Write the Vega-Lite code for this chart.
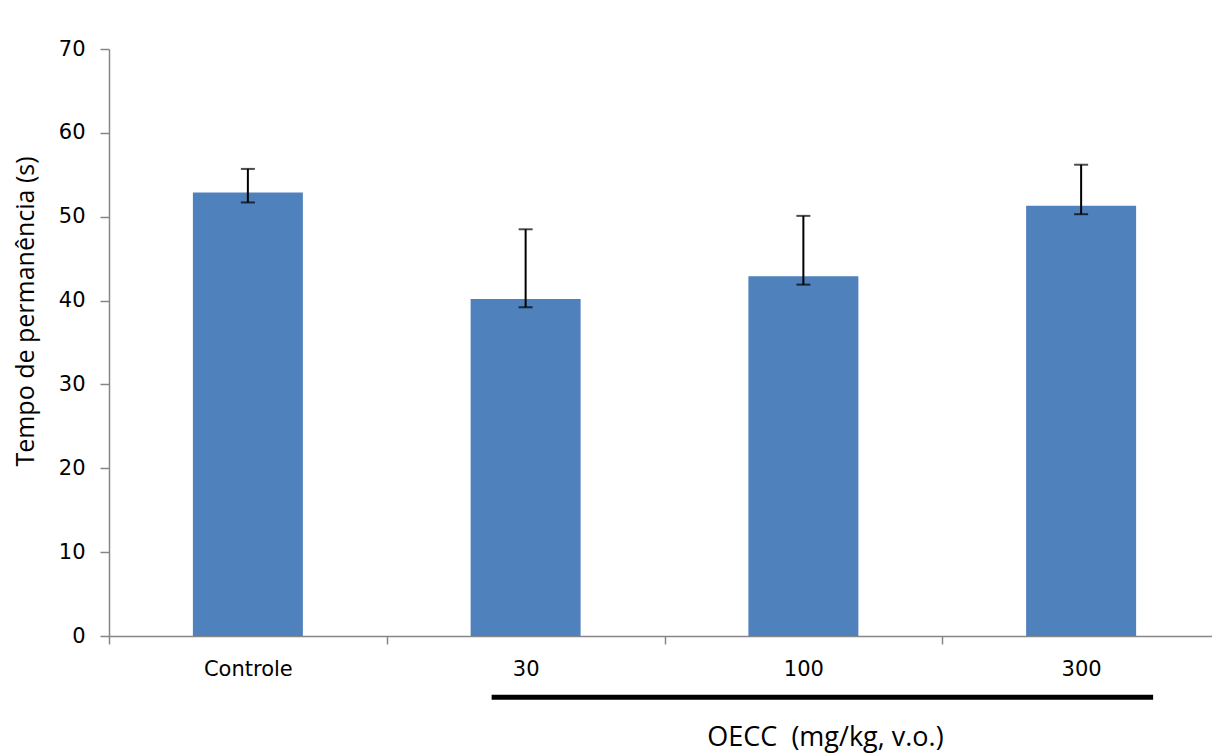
{
  "$schema": "https://vega.github.io/schema/vega-lite/v6.json",
  "autosize": "none",
  "width": 1111,
  "height": 587,
  "padding": {"left": 109, "top": 49, "right": 0, "bottom": 119},
  "background": "white",
  "config": {"view": {"stroke": null}},
  "datasets": {
    "bars": [
      {"grupo": "Controle", "tempo": 52.9, "low": 51.7, "high": 55.7},
      {"grupo": "30", "tempo": 40.2, "low": 39.2, "high": 48.5},
      {"grupo": "100", "tempo": 42.9, "low": 41.9, "high": 50.1},
      {"grupo": "300", "tempo": 51.3, "low": 50.3, "high": 56.2}
    ],
    "linha": [{"de": "30", "ate": "300", "y": -7.3}]
  },
  "layer": [
    {
      "data": {"name": "bars"},
      "mark": {"type": "bar", "color": "#4F81BD", "width": {"band": 0.396}},
      "encoding": {
        "x": {
          "field": "grupo", "type": "nominal", "sort": null,
          "scale": {"domain": ["Controle", "30", "100", "300"], "paddingInner": 0, "paddingOuter": 0},
          "axis": {
            "title": "OECC \u00a0(mg/kg, v.o.)",
            "titleFont": "Open Sans", "titleFontSize": 27, "titleFontWeight": "normal", "titleColor": "#000000",
            "titleX": 716, "titleY": 88, "titleAnchor": null, "titleAlign": "center", "titleBaseline": "top",
            "labelAngle": 0, "labelFont": "DejaVu Sans", "labelFontSize": 21, "labelColor": "#000000",
            "labelPadding": 14, "tickBand": "extent", "tickSize": 8, "tickColor": "#868686", "domainColor": "#868686",
            "domainWidth": 1.5, "tickWidth": 1.5, "grid": false
          }
        },
        "y": {
          "field": "tempo", "type": "quantitative",
          "title": "Tempo de permanência (s)",
          "scale": {"domain": [0, 70], "nice": false},
          "axis": {
            "titleFont": "Open Sans", "titleFontSize": 25, "titleFontWeight": "normal", "titleColor": "#000000",
            "titleY": 262, "titleX": -84, "titleAlign": "center", "titleBaseline": "middle", "titleAngle": -90,
            "values": [0, 10, 20, 30, 40, 50, 60, 70],
            "labelFont": "DejaVu Sans", "labelFontSize": 21, "labelColor": "#000000", "labelPadding": 15,
            "tickSize": 9, "tickColor": "#868686", "domainColor": "#868686", "domainWidth": 1.5, "tickWidth": 1.5, "grid": false
          }
        }
      }
    },
    {
      "data": {"name": "bars"},
      "mark": {"type": "errorbar", "color": "black", "ticks": {"size": 14, "thickness": 2}, "rule": {"strokeWidth": 2}},
      "encoding": {
        "x": {"field": "grupo", "type": "nominal", "sort": null},
        "y": {"field": "low", "type": "quantitative", "title": "Tempo de permanência (s)"},
        "y2": {"field": "high"}
      }
    },
    {
      "data": {"name": "linha"},
      "mark": {"type": "rule", "color": "black", "strokeWidth": 5, "clip": false, "xOffset": -34, "x2Offset": 72},
      "encoding": {
        "x": {"field": "de", "type": "nominal"},
        "x2": {"field": "ate"},
        "y": {"field": "y", "type": "quantitative"}
      }
    }
  ]
}
